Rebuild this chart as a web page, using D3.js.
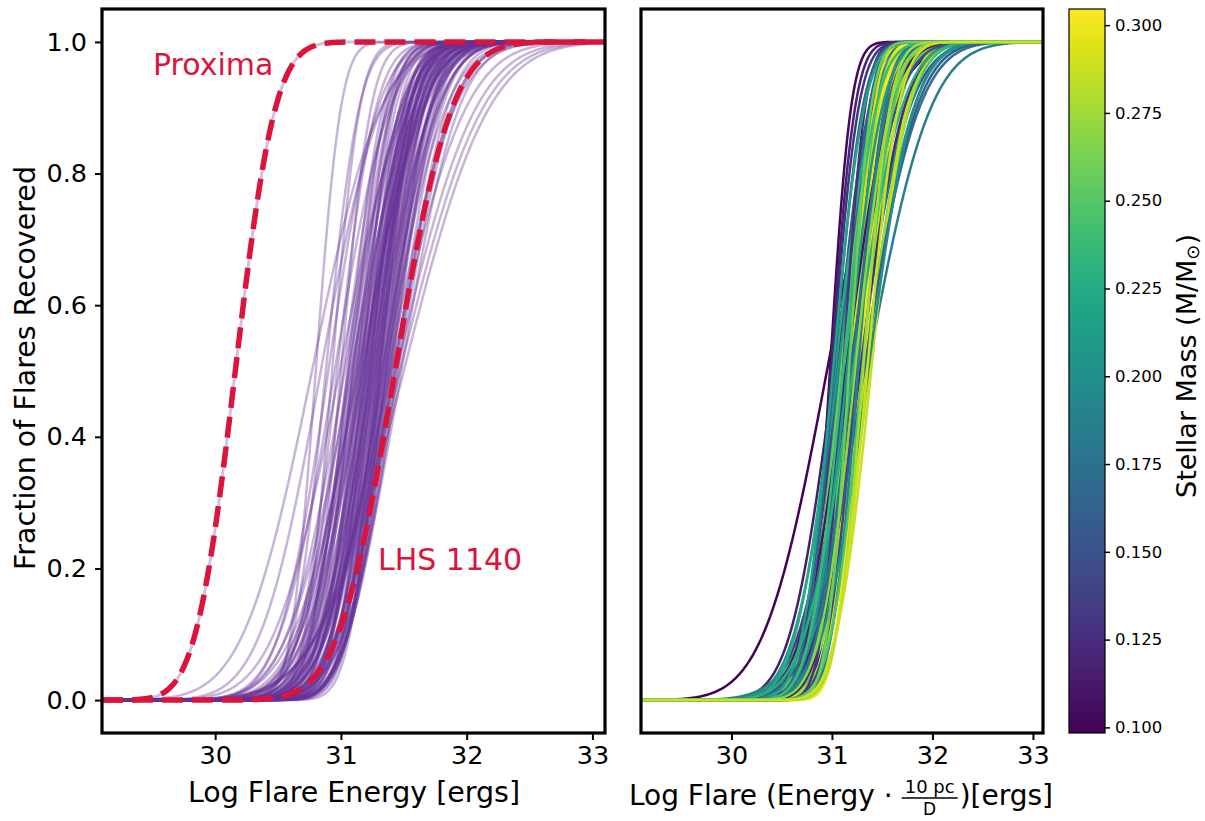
<!DOCTYPE html>
<html><head><meta charset="utf-8">
<script src="https://cdn.jsdelivr.net/npm/d3@7"></script>
<style>body{margin:0;background:#fff} text{font-family:"DejaVu Sans",sans-serif}</style>
</head><body><svg id="c" width="1205" height="821"></svg>
<script>
// ---------- data ----------
const xTicks = [30, 31, 32, 33];
const yTicks = [0.0, 0.2, 0.4, 0.6, 0.8, 1.0];
const cbTicks = [0.100, 0.125, 0.150, 0.175, 0.200, 0.225, 0.250, 0.275, 0.300];

// reference stars: log E at 50% recovery, and 10%->90% spread (dex)
const refNames = ["Proxima", "LHS 1140"];
const refMid = [30.16, 31.43];
const refSpread = [0.64, 0.91];

// left panel: every star, log E at 50% recovery and 10%->90% spread
const leftMid = [
30.77,30.80,30.84,30.88,30.90,30.93,30.95,30.97,30.99,31.00,
31.02,31.03,31.05,31.06,31.07,31.08,31.09,31.10,31.10,31.11,
31.12,31.13,31.13,31.14,31.15,31.15,31.16,31.17,31.17,31.18,
31.18,31.19,31.19,31.20,31.20,31.21,31.21,31.22,31.22,31.23,
31.23,31.24,31.24,31.25,31.25,31.26,31.26,31.27,31.27,31.28,
31.28,31.29,31.29,31.30,31.30,31.31,31.31,31.32,31.32,31.33,
31.33,31.34,31.34,31.35,31.35,31.36,31.36,31.37,31.37,31.38,
31.38,31.39,31.39,31.40,31.40,31.41,31.42,31.43,31.44,31.45,
31.46,31.47,31.48,31.50,31.12,31.06,31.16,31.24,31.30,31.19,
31.26,31.33,31.21,31.28,31.14,31.36,31.09,31.31,31.23,31.17];
const leftSpread = [
1.10,0.40,0.97,0.53,0.79,0.44,0.88,0.62,1.05,0.48,
0.70,0.92,0.57,0.83,0.66,1.01,0.53,0.75,0.62,0.88,
0.70,0.53,0.97,0.79,0.57,0.75,0.66,0.83,0.48,0.70,
0.92,0.62,0.79,0.53,0.75,0.66,0.88,0.57,0.70,0.79,
0.62,0.83,0.53,0.75,0.66,0.92,0.57,0.70,0.79,0.62,
0.88,0.53,0.75,0.66,0.83,0.57,0.70,0.79,0.53,0.66,
0.88,0.57,0.75,0.62,0.97,0.62,0.70,0.83,0.66,0.66,
1.05,0.66,0.79,0.70,1.19,0.70,0.92,0.75,1.27,0.79,
0.88,1.32,0.92,1.36,0.83,0.62,0.97,0.75,0.57,0.70,
0.66,0.88,0.79,0.53,1.05,0.75,0.83,0.48,0.62,0.92];

// right panel: distance-scaled curves, stellar mass, 50% point, 10%->90% spread
const rightMass = [
0.100,0.102,0.105,0.110,0.115,0.120,0.125,0.130,0.135,0.140,
0.145,0.150,0.155,0.160,0.165,0.170,0.175,0.180,0.185,0.190,
0.195,0.200,0.205,0.210,0.215,0.220,0.225,0.230,0.235,0.240,
0.245,0.250,0.255,0.260,0.265,0.270,0.272,0.275,0.278,0.280,
0.282,0.285,0.287,0.290,0.292,0.295,0.298,0.300,0.303,0.108,
0.112,0.118,0.122,0.128,0.138,0.148,0.158,0.168,0.178,0.188,
0.198,0.208,0.218,0.228,0.238,0.248,0.258,0.268,0.277,0.288];
const rightMid = [
30.95,30.98,31.05,31.12,31.02,31.18,31.08,31.00,31.15,31.10,
31.20,31.04,31.25,31.13,31.22,31.07,31.30,31.17,31.35,31.10,
31.28,31.14,31.23,31.06,31.31,31.19,31.03,31.26,31.12,31.33,
31.16,31.24,31.09,31.29,31.21,31.34,31.18,31.27,31.37,31.22,
31.30,31.25,31.39,31.28,31.20,31.32,31.26,31.29,31.27,31.14,
31.22,30.99,31.28,31.11,31.24,31.18,31.32,31.02,31.20,31.26,
31.36,31.15,31.01,31.21,31.11,31.30,31.17,31.23,31.31,31.35];
const rightSpread = [
1.27,0.42,0.70,0.62,0.88,0.53,0.79,0.53,0.97,0.57,
0.75,0.66,1.05,0.48,0.83,0.62,1.14,0.66,1.27,0.75,
0.92,0.57,0.79,0.88,1.01,0.62,0.79,0.70,0.83,0.88,
0.57,0.66,0.70,0.75,0.53,0.83,0.62,0.57,0.79,0.48,
0.66,0.53,0.70,0.48,0.44,0.57,0.44,0.51,0.46,0.88,
0.66,0.48,0.88,0.44,0.57,0.92,1.05,0.57,0.70,0.53,
0.92,0.70,0.62,0.97,0.66,0.62,0.44,0.70,0.53,0.62];

// ---------- drawing ----------
const svg = d3.select("#c");
const TOP = 9, BOT = 733;
const L = {x0: 102, x1: 605};
const R = {x0: 641, x1: 1043};
const CB = {x0: 1069, x1: 1105};
const xDom = [29.1, 33.1];
const y = d3.scaleLinear().domain([-0.05, 1.05]).range([BOT, TOP]);
const xL = d3.scaleLinear().domain(xDom).range([L.x0, L.x1]);
const xR = d3.scaleLinear().domain(xDom).range([R.x0, R.x1]);
const color = d3.scaleSequential(d3.interpolateViridis).domain([0.0984, 0.3046]);

function erf(x) {
  const s = Math.sign(x); x = Math.abs(x);
  const t = 1 / (1 + 0.3275911 * x);
  const p = ((((1.061405429*t - 1.453152027)*t + 1.421413741)*t - 0.284496736)*t + 0.254829592)*t;
  return s * (1 - p * Math.exp(-x*x));
}
const grid = d3.range(0, 401).map(i => xDom[0] + (xDom[1]-xDom[0]) * i / 400);
function curve(mid, spread) {           // Gaussian CDF through the read 50% point and 10-90% spread
  const sig = spread / 2.5631;
  return grid.map(e => [e, 0.5 * (1 + erf((e - mid) / (sig * Math.SQRT2)))]);
}
const lineL = d3.line().x(d => xL(d[0])).y(d => y(d[1]));
const lineR = d3.line().x(d => xR(d[0])).y(d => y(d[1]));

const defs = svg.append("defs");
defs.append("clipPath").attr("id","clipL").append("rect")
  .attr("x", L.x0).attr("y", TOP).attr("width", L.x1-L.x0).attr("height", BOT-TOP);
defs.append("clipPath").attr("id","clipR").append("rect")
  .attr("x", R.x0).attr("y", TOP).attr("width", R.x1-R.x0).attr("height", BOT-TOP);

// left bundle
const gL = svg.append("g").attr("clip-path","url(#clipL)");
leftMid.forEach((m, i) => {
  gL.append("path").attr("d", lineL(curve(m, leftSpread[i])))
    .attr("fill","none").attr("stroke","#663399").attr("stroke-opacity",0.37).attr("stroke-width",2.5);
});
refMid.forEach((m, i) => {
  gL.append("path").attr("d", lineL(curve(m, refSpread[i])))
    .attr("fill","none").attr("stroke","#663399").attr("stroke-opacity",0.3).attr("stroke-width",3);
});
refMid.forEach((m, i) => {
  gL.append("path").attr("d", lineL(curve(m, refSpread[i])))
    .attr("fill","none").attr("stroke","#DC143C").attr("stroke-width",5.5)
    .attr("stroke-dasharray","21,9");
});

// right bundle
const gR = svg.append("g").attr("clip-path","url(#clipR)");
rightMid.forEach((m, i) => {
  gR.append("path").attr("d", lineR(curve(m, rightSpread[i])))
    .attr("fill","none").attr("stroke", color(rightMass[i])).attr("stroke-width",2.5);
});

// annotations
svg.append("text").attr("x",153).attr("y",75).attr("font-size",30).attr("fill","#DC143C").text(refNames[0]);
svg.append("text").attr("x",378).attr("y",570).attr("font-size",30).attr("fill","#DC143C").text(refNames[1]);

// axes
function frame(x0, x1) {
  svg.append("rect").attr("x",x0).attr("y",TOP).attr("width",x1-x0).attr("height",BOT-TOP)
    .attr("fill","none").attr("stroke","#000").attr("stroke-width",3.2);
}
const axL = svg.append("g").attr("transform",`translate(0,${BOT})`)
  .call(d3.axisBottom(xL).tickValues(xTicks).tickSize(7).tickPadding(6).tickFormat(d3.format("d")));
const axR = svg.append("g").attr("transform",`translate(0,${BOT})`)
  .call(d3.axisBottom(xR).tickValues(xTicks).tickSize(7).tickPadding(6).tickFormat(d3.format("d")));
const axY = svg.append("g").attr("transform",`translate(${L.x0},0)`)
  .call(d3.axisLeft(y).tickValues(yTicks).tickSize(7).tickPadding(8).tickFormat(d3.format(".1f")));
[axL, axR, axY].forEach(a => {
  a.select(".domain").remove();
  a.selectAll(".tick line").attr("stroke","#000").attr("stroke-width",2);
  a.selectAll(".tick text").attr("font-size",25.5).attr("fill","#000").attr("font-family","DejaVu Sans");
});
frame(L.x0, L.x1);
frame(R.x0, R.x1);

// axis labels
svg.append("text").attr("transform",`translate(35,368) rotate(-90)`).attr("text-anchor","middle")
  .attr("font-size",28.5).text("Fraction of Flares Recovered");
svg.append("text").attr("x",354).attr("y",802).attr("text-anchor","middle")
  .attr("font-size",28.5).text("Log Flare Energy [ergs]");

// right x label with fraction
const xl2 = svg.append("g");
const t1 = xl2.append("text").attr("font-size",28).text("Log Flare (Energy ·");
const w1 = t1.node().getComputedTextLength() + 9;
const num = xl2.append("text").attr("font-size",18).attr("text-anchor","middle").text("10 pc");
const fracW = num.node().getComputedTextLength() + 6;
num.attr("x", w1 + fracW/2).attr("y", -12);
xl2.append("line").attr("x1",w1).attr("x2",w1+fracW).attr("y1",-7).attr("y2",-7)
  .attr("stroke","#000").attr("stroke-width",1.4);
xl2.append("text").attr("font-size",17).attr("text-anchor","middle")
  .attr("x",w1+fracW/2).attr("y",10).text("D");
const t2 = xl2.append("text").attr("font-size",28).attr("x", w1+fracW+2).text(")[ergs]");
const total = w1 + fracW + 2 + t2.node().getComputedTextLength();
xl2.attr("transform", `translate(${841 - total/2},805)`);

// colorbar
const cby = d3.scaleLinear().domain(color.domain()).range([BOT, TOP]);
const grad = defs.append("linearGradient").attr("id","vir")
  .attr("x1",0).attr("y1",1).attr("x2",0).attr("y2",0);
d3.range(0, 1.0001, 0.05).forEach(t => {
  grad.append("stop").attr("offset", t).attr("stop-color", d3.interpolateViridis(t));
});
svg.append("rect").attr("x",CB.x0).attr("y",TOP).attr("width",CB.x1-CB.x0).attr("height",BOT-TOP)
  .attr("fill","url(#vir)").attr("stroke","#000").attr("stroke-width",1.2);
const axC = svg.append("g").attr("transform",`translate(${CB.x1},0)`)
  .call(d3.axisRight(cby).tickValues(cbTicks).tickSize(5).tickPadding(5).tickFormat(d3.format(".3f")));
axC.select(".domain").remove();
axC.selectAll(".tick line").attr("stroke","#000").attr("stroke-width",1.5);
axC.selectAll(".tick text").attr("font-size",16.5).attr("fill","#000").attr("font-family","DejaVu Sans");

const cl = svg.append("text").attr("transform",`translate(1196,366) rotate(-90)`)
  .attr("text-anchor","middle").attr("font-size",27);
cl.append("tspan").text("Stellar Mass (M/M");
cl.append("tspan").attr("font-size",18).attr("dy",3).text("⊙");
cl.append("tspan").attr("dy",-3).text(")");
</script></body></html>
